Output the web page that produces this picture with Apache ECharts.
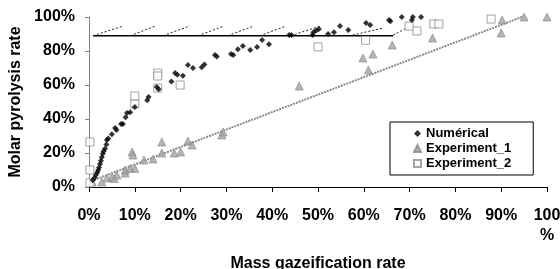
<!DOCTYPE html>
<html>
<head>
<meta charset="utf-8">
<script src="https://cdn.jsdelivr.net/npm/echarts@6/dist/echarts.min.js"></script>
<style>
    html, body { margin: 0; padding: 0; background: #fff; }
    #chart { width: 560px; height: 269px; }
</style>
</head>
<body>
<div id="chart"></div>
<script>
// x ticks (mass gazeification rate, %), y ticks (molar pyrolysis rate, %)
var xTicks = [0, 10, 20, 30, 40, 50, 60, 70, 80, 90, 100];
var yTicks = [0, 20, 40, 60, 80, 100];

// numerical model points [x%, y%]
var numerical = [
    [0.8, 4], [1.2, 5.5], [1.5, 7], [1.8, 8.5], [2.0, 10], [2.2, 11.5], [2.4, 13.5],
    [2.6, 15.5], [2.8, 17.5], [3.0, 19.5], [3.2, 21], [3.5, 22.5], [3.8, 25],
    [3.9, 27.6], [4.2, 28.5], [5.0, 31], [5.7, 34.7], [6.0, 33.5], [7.0, 37],
    [7.4, 37], [8.0, 41], [8.3, 43.5], [9.0, 44], [10.0, 47], [12.7, 51],
    [13.0, 53], [14.8, 58.8], [15.2, 57.5], [18.0, 62], [18.8, 67], [19.3, 66],
    [20.5, 65.5], [21.6, 71.8], [22.7, 70], [24.6, 70.5], [25.2, 72], [27.5, 77.6],
    [27.9, 76.8], [31.0, 78.2], [31.5, 77.6], [32.5, 81], [33.6, 83], [35.2, 80.6],
    [36.7, 82.4], [37.8, 86.5], [39.3, 84], [43.7, 89.4], [44.2, 89.4], [48.8, 89.4],
    [49.0, 91], [49.6, 92], [50.2, 93], [52.2, 90], [53.5, 91], [54.8, 94.7],
    [56.6, 92.4], [60.5, 96.5], [61.4, 95.3], [65.5, 98.2], [65.8, 97.5],
    [68.3, 100], [70.5, 98.2], [70.7, 100], [72.5, 100]
];

// experiment 1 points [x%, y%]
var experiment1 = [
    [0.7, 3], [2.8, 3], [3.9, 5.3], [5.0, 6], [6.1, 7], [5.5, 5], [7.9, 8.2],
    [7.9, 10], [9.0, 11], [9.4, 20.6], [9.6, 18.8], [10.0, 11], [12.0, 15.9],
    [14.0, 16.5], [15.9, 26.5], [15.9, 20], [18.6, 20], [20.0, 20.6], [21.6, 27],
    [22.5, 24.7], [29.0, 30.6], [29.3, 32.4], [45.9, 59.4], [59.8, 75.9],
    [62.0, 78.2], [61.0, 68.8], [66.2, 83.5], [75.0, 87.6], [90.2, 98.2],
    [90.0, 90.6], [95.0, 100], [100, 100]
];

// experiment 2 points [x%, y%]
var experiment2 = [
    [0.2, 2.4], [0.2, 10], [0.2, 26.5], [10.0, 53.5], [10.0, 48.8], [15.0, 67],
    [15.0, 65.3], [15.0, 58.2], [19.9, 60], [50.0, 82.4], [60.4, 86.3],
    [69.9, 94.7], [71.6, 91.8], [75.3, 95.9], [76.4, 95.9], [87.8, 98.8]
];

// experiment 1 trend line, ends only
var trend1 = [[0.5, 3.5], [94.5, 100]];

// horizontal plateau and the dashed teeth above it
var plateau = [[0.9, 89], [66.4, 89]];
var teeth = [
    [0.9, 89], [7.5, 94.7], '-', [9, 89], [14.5, 94.7], '-', [16.2, 89], [22, 94.7], '-',
    [23.8, 89], [29.5, 94.7], '-', [30.3, 89], [36, 94.7], '-', [37.3, 89], [43, 94.7], '-',
    [44.1, 89], [50.5, 94.7], '-', [57.6, 89.4], [64.2, 93.5], '-', [66.4, 89.4], [70.5, 95]
];

var fontFamily = '"Liberation Sans", Arial, sans-serif';

var chart = echarts.init(document.getElementById('chart'));
chart.setOption({
    animation: false,
    textStyle: { fontFamily: fontFamily },
    grid: { left: 89, right: 13, top: 17, bottom: 82, outerBoundsMode: 'none' },
    legend: {
        orient: 'vertical',
        left: 390,
        top: 122,
        padding: [5, 22, 5, 23],
        itemGap: 2,
        itemWidth: 7,
        itemHeight: 7,
        borderColor: '#000',
        borderWidth: 1,
        backgroundColor: '#fff',
        textStyle: { fontSize: 13, fontWeight: 'bold', color: '#000', fontFamily: fontFamily },
        data: [
            { name: 'Numérical', icon: 'diamond', itemStyle: { color: '#000' } },
            { name: 'Experiment_1', icon: 'triangle' },
            { name: 'Experiment_2', icon: 'rect' }
        ]
    },
    xAxis: {
        type: 'value',
        min: xTicks[0],
        max: xTicks[xTicks.length - 1],
        interval: 10,
        name: 'Mass gazeification rate',
        nameLocation: 'middle',
        nameGap: 69,
        nameTextStyle: { fontSize: 16, fontWeight: 'bold', color: '#000' },
        splitLine: { show: false },
        axisLine: { lineStyle: { color: '#000', width: 1 } },
        axisTick: { inside: false, length: 5, lineStyle: { color: '#000' } },
        axisLabel: {
            fontSize: 16, fontWeight: 'bold', color: '#000', margin: 19, lineHeight: 20,
            formatter: function (v) { return v === 100 ? '100\n%' : v + '%'; }
        }
    },
    yAxis: {
        type: 'value',
        min: yTicks[0],
        max: yTicks[yTicks.length - 1],
        interval: 20,
        name: 'Molar pyrolysis rate',
        nameLocation: 'middle',
        nameGap: 63,
        nameTextStyle: { fontSize: 16, fontWeight: 'bold', color: '#000' },
        splitLine: { show: false },
        axisLine: { show: true, lineStyle: { color: '#808080', width: 1 } },
        axisTick: { show: true, inside: false, length: 4, lineStyle: { color: '#808080' } },
        axisLabel: {
            fontSize: 16, fontWeight: 'bold', color: '#000', margin: 14,
            formatter: '{value}%'
        }
    },
    series: [
        {
            name: 'plateau', type: 'line', data: plateau, symbol: 'none', silent: true,
            lineStyle: { color: '#000', width: 1.5 }, z: 1
        },
        {
            name: 'teeth', type: 'line', data: teeth, symbol: 'none', silent: true,
            connectNulls: false,
            lineStyle: { color: '#222', width: 1, type: [2, 2] }, z: 1
        },
        {
            name: 'trend', type: 'line', data: trend1, symbol: 'none', silent: true,
            lineStyle: { color: '#8a8a8a', width: 2, type: [2, 1] }, z: 1
        },
        {
            name: 'Experiment_1', type: 'scatter', data: experiment1,
            symbol: 'triangle', symbolSize: 8,
            itemStyle: { color: '#a3a3a3', borderColor: '#888', borderWidth: 0.8 }, z: 3
        },
        {
            name: 'Experiment_2', type: 'scatter', data: experiment2,
            symbol: 'rect', symbolSize: 8,
            itemStyle: { color: '#fff', borderColor: '#8c8c8c', borderWidth: 1 }, z: 4
        },
        {
            name: 'Numérical', type: 'scatter', data: numerical,
            symbol: 'diamond', symbolSize: 6,
            itemStyle: { color: '#000' }, z: 5
        }
    ]
});
</script>
</body>
</html>
